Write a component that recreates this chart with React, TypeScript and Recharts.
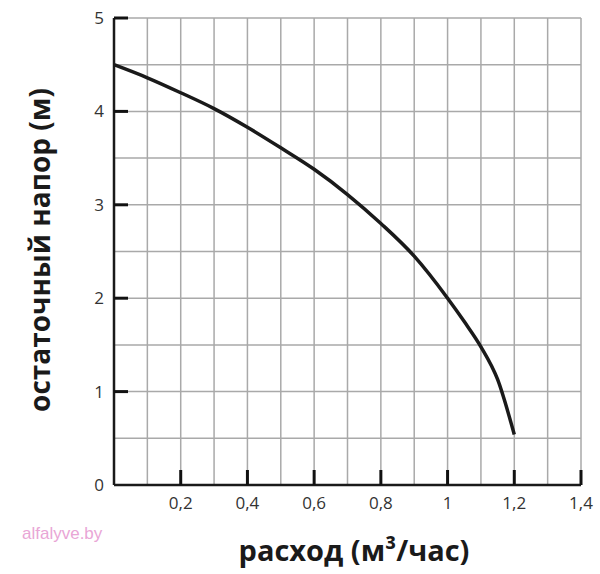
import { Line, LineChart, ReferenceLine, XAxis, YAxis } from "recharts";

// расход, м³/час
const flow = [0, 0.1, 0.2, 0.3, 0.4, 0.5, 0.6, 0.7, 0.8, 0.9, 1.0, 1.05, 1.1, 1.15, 1.2];
// остаточный напор, м
const head = [4.5, 4.36, 4.2, 4.03, 3.83, 3.61, 3.38, 3.11, 2.8, 2.45, 2.0, 1.75, 1.48, 1.13, 0.54];

const xTicks = [0.2, 0.4, 0.6, 0.8, 1, 1.2, 1.4];
const yTicks = [0, 1, 2, 3, 4, 5];
const xGrid = [0.1, 0.2, 0.3, 0.4, 0.5, 0.6, 0.7, 0.8, 0.9, 1, 1.1, 1.2, 1.3, 1.4];
const yGrid = [0.5, 1, 1.5, 2, 2.5, 3, 3.5, 4, 4.5, 5];

const data = flow.map((q, i) => ({ q, h: head[i] }));

const fmt = (v: number) => String(v).replace(".", ",");
const tickFont = { fontFamily: "Open Sans", fontSize: 17, fill: "#333" };

function XTick(props: any) {
  const { x, y, payload } = props;
  return (
    <g>
      <line x1={x} x2={x} y1={y} y2={y - 15} stroke="#111" strokeWidth={3} />
      <text x={x} y={y + 24} textAnchor="middle" {...tickFont}>
        {fmt(payload.value)}
      </text>
    </g>
  );
}

function YTick(props: any) {
  const { x, y, payload } = props;
  return (
    <g>
      {payload.value > 0 && <line x1={x} x2={x + 14} y1={y} y2={y} stroke="#111" strokeWidth={3} />}
      <text x={x - 10} y={y + 6} textAnchor="end" {...tickFont}>
        {fmt(payload.value)}
      </text>
    </g>
  );
}

export default function App() {
  return (
    <div style={{ position: "absolute", left: 0, top: 0, width: 600, height: 574, background: "#fff" }}>
      <LineChart width={600} height={574} data={data} margin={{ top: 18, right: 19, bottom: 49, left: 54 }}>
        {xGrid.map((v) => (
          <ReferenceLine key={"x" + v} x={v} stroke="#a9a9a9" strokeWidth={1.5} />
        ))}
        {yGrid.map((v) => (
          <ReferenceLine key={"y" + v} y={v} stroke="#a9a9a9" strokeWidth={1.5} />
        ))}
        <XAxis
          dataKey="q"
          type="number"
          domain={[0, 1.4]}
          ticks={xTicks}
          height={40}
          tickSize={0}
          tickMargin={0}
          tickLine={false}
          axisLine={{ stroke: "#1a1a1a", strokeWidth: 2.5 }}
          tick={<XTick />}
          interval={0}
        />
        <YAxis
          type="number"
          domain={[0, 5]}
          ticks={yTicks}
          width={60}
          tickSize={0}
          tickMargin={0}
          tickLine={false}
          axisLine={{ stroke: "#1a1a1a", strokeWidth: 2.5 }}
          tick={<YTick />}
          interval={0}
        />
        <Line
          dataKey="h"
          type="monotone"
          stroke="#1a1a1a"
          strokeWidth={3.5}
          dot={false}
          activeDot={false}
          isAnimationActive={false}
        />
        <text
          x={0}
          y={0}
          transform="translate(50 250) rotate(-90)"
          textAnchor="middle"
          fontFamily="Open Sans"
          fontWeight={700}
          fontSize={28}
          fill="#1a1a1a"
        >
          остаточный напор (м)
        </text>
        <text x={354} y={561} textAnchor="middle" fontFamily="Open Sans" fontWeight={700} fontSize={29} fill="#1a1a1a">
          расход (м³/час)
        </text>
        <text x={22} y={539} fontFamily="Liberation Sans" fontSize={17} fill="#e9a6d6">
          alfalyve.by
        </text>
      </LineChart>
    </div>
  );
}
